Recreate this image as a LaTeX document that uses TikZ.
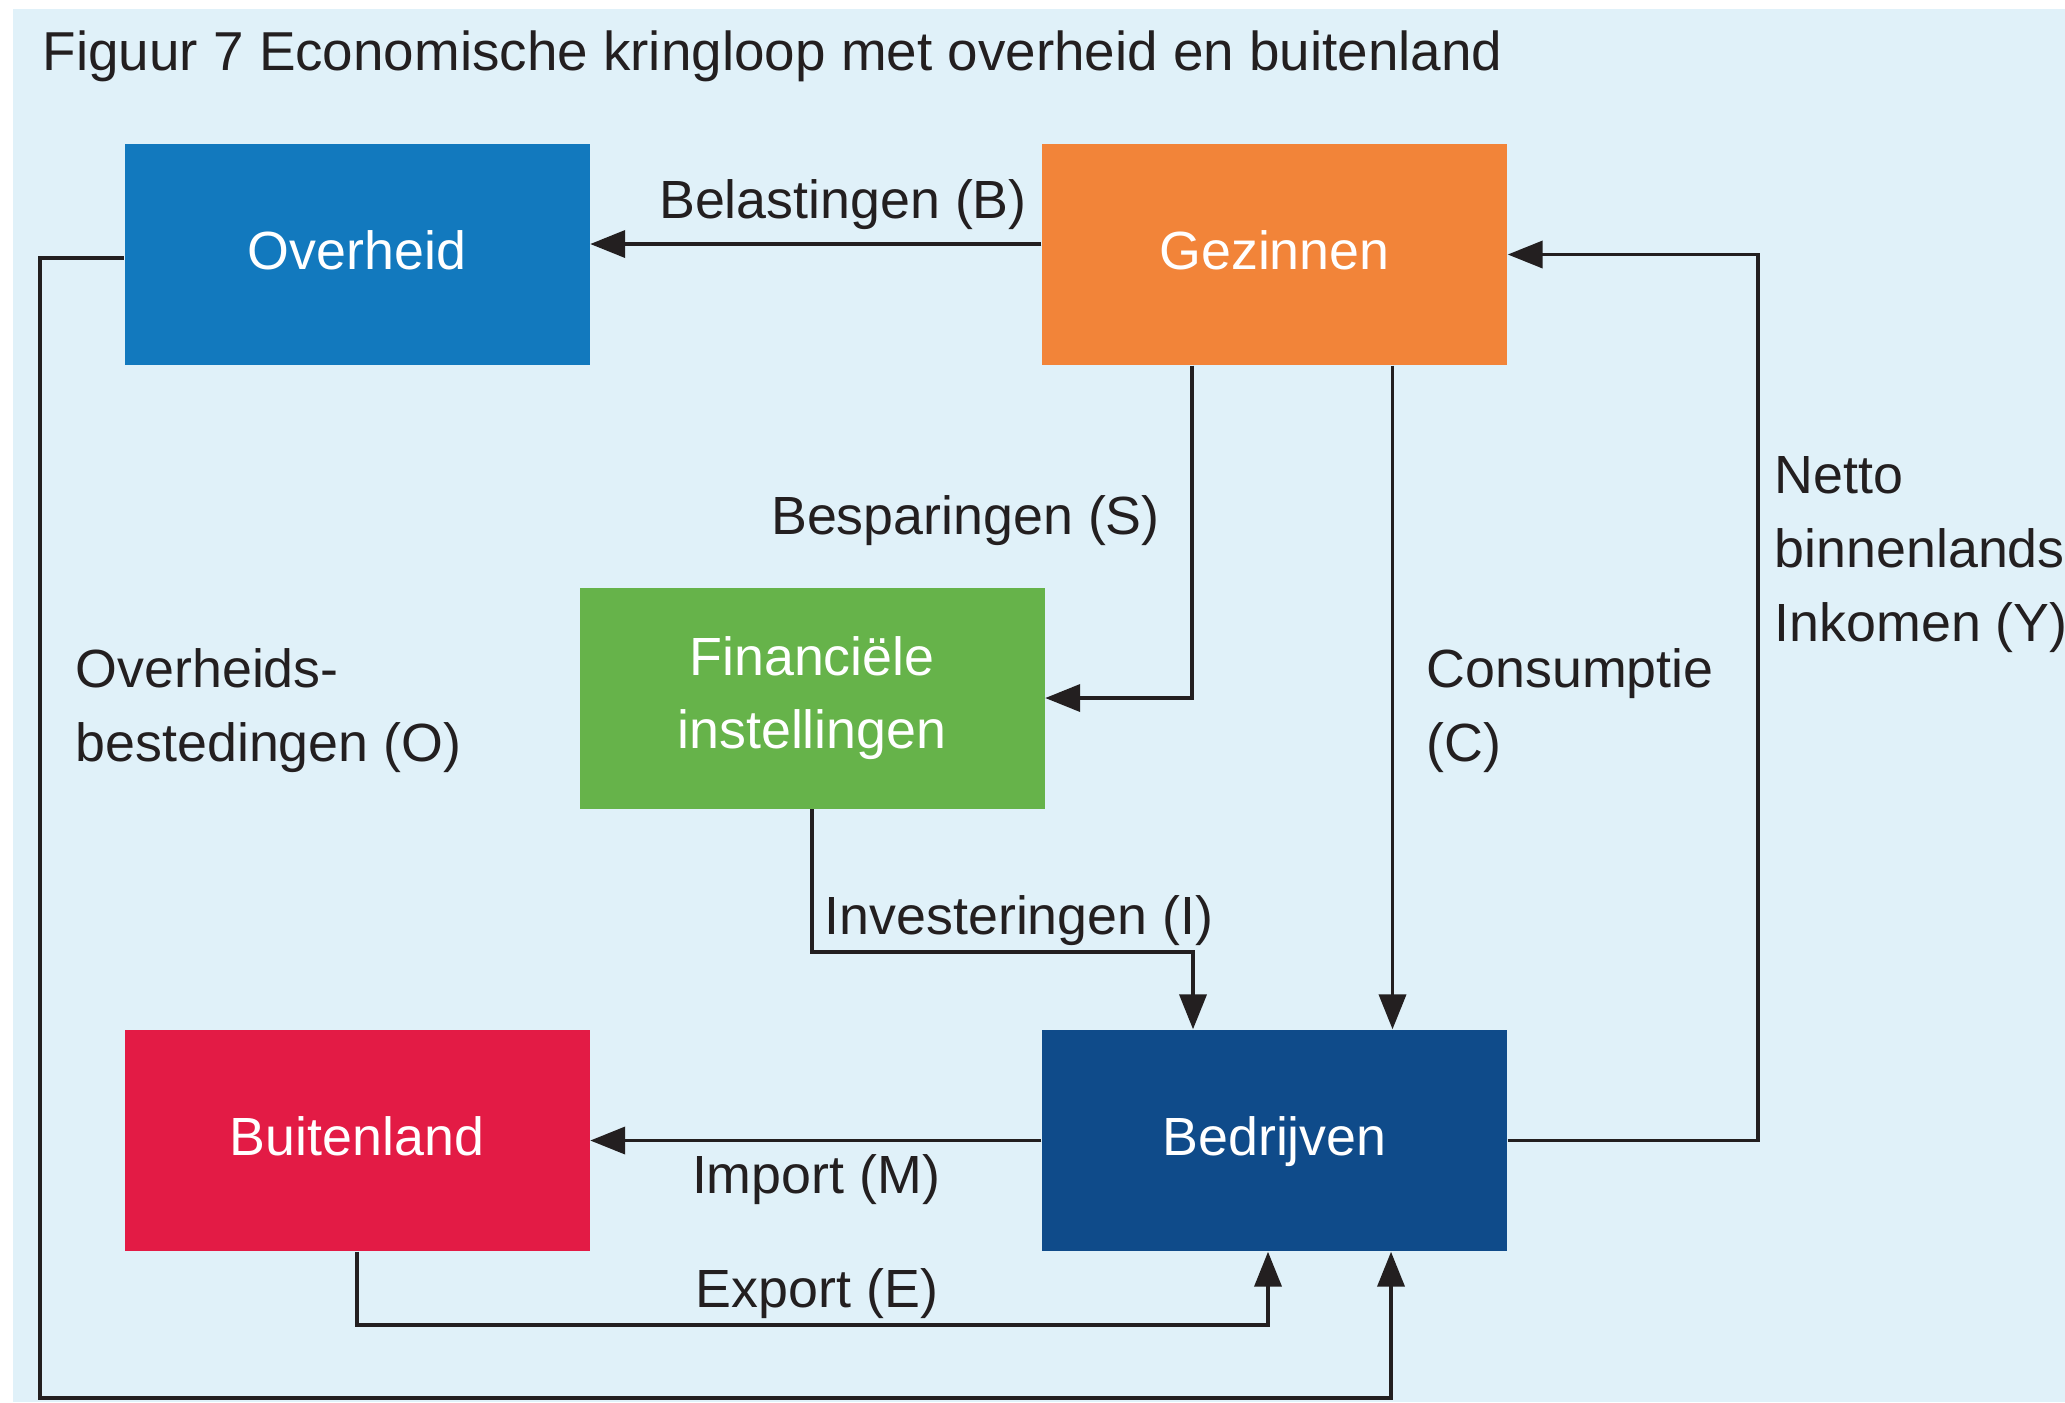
\documentclass[tikz,border=0pt]{standalone}
\usepackage{fontspec}
\setmainfont{Liberation Sans}
\usetikzlibrary{positioning,arrows.meta}

\definecolor{achtergrond}{HTML}{E0F1F9}
\definecolor{blauw}{HTML}{1279BE}
\definecolor{oranje}{HTML}{F28439}
\definecolor{groen}{HTML}{66B34A}
\definecolor{rood}{HTML}{E31B45}
\definecolor{donkerblauw}{HTML}{0F4B8A}
\definecolor{tekst}{HTML}{231F20}

\tikzset{
    sector/.style={minimum width=4.65cm, minimum height=2.21cm, inner sep=0pt,
        text=white, align=center},
    stroom/.style={draw=tekst, line width=1.1pt, -{Triangle[length=3.5mm,width=2.7mm]}},
    bijschrift/.style={inner sep=0pt, align=left},
}

\begin{document}
\begin{tikzpicture}[font=\fontsize{15.3}{21}\selectfont, text=tekst]
                \clip (0,0) rectangle (20.65,-14.02);
                \fill[achtergrond] (0.13,-0.09) rectangle (20.65,-14.02);

                %Nodes
                \node[anchor=base west, inner sep=0pt, font=\fontsize{15.6}{21}\selectfont] at (0.42,-0.70) (titel) {Figuur 7 Economische kringloop met overheid en buitenland};
                \node[sector, fill=blauw]       at (3.57,-2.545)   (ovh)  {Overheid\strut};
                \node[sector, fill=oranje]      at (12.745,-2.545) (gez)  {Gezinnen\strut};
                \node[sector, fill=groen]       at (8.12,-6.98)    (fin)  {Financiële\\instellingen};
                \node[sector, fill=rood]        at (3.57,-11.405)  (buit) {Buitenland\strut};
                \node[sector, fill=donkerblauw] at (12.745,-11.405) (bedr) {Bedrijven\strut};

                %Corners
                \coordinate (hoekO) at (0.40,-13.98);
                \coordinate (hoekI) at (11.93,-9.52);
                \coordinate (hoekE) at (3.57,-13.25);
                \coordinate (hoekY) at (17.58,-2.545);

                %Lines
                \draw[stroom] ([yshift=1.05mm]gez.west) -- ([yshift=1.05mm]ovh.east);
                \draw[stroom] ([yshift=-0.35mm]ovh.west) -| (hoekO) -| ([xshift=11.65mm]bedr.south);
                \draw[stroom] ([xshift=-8.25mm]gez.south) |- (fin.east);
                \draw[stroom] ([xshift=11.8mm]gez.south) -- ([xshift=11.8mm]bedr.north);
                \draw[stroom] (fin.south) |- (hoekI) -- ([xshift=-8.15mm]bedr.north);
                \draw[stroom] (bedr.west) -- (buit.east);
                \draw[stroom] (buit.south) -- (hoekE) -| ([xshift=-0.65mm]bedr.south);
                \draw[stroom] (bedr.east) -| (hoekY) -- (gez.east);

                %Labels
                \node[anchor=base] at (8.43,-2.18)  (belast) {Belastingen (B)};
                \node[anchor=base] at (9.655,-5.34) (bespar) {Besparingen (S)};
                \node[anchor=base] at (10.19,-9.34) (invest) {Investeringen (I)};
                \node[anchor=base] at (8.16,-11.93) (import) {Import (M)};
                \node[anchor=base] at (8.17,-13.07) (export) {Export (E)};
                \node[bijschrift, anchor=north west] at (0.75,-6.48)  (overbest) {Overheids-\\bestedingen (O)};
                \node[bijschrift, anchor=north west] at (14.26,-6.48) (consump)  {Consumptie\\(C)};
                \node[bijschrift, anchor=north west] at (17.74,-4.56) (inkomen)  {Netto\\binnenlands\\Inkomen (Y)};
\end{tikzpicture}
\end{document}
